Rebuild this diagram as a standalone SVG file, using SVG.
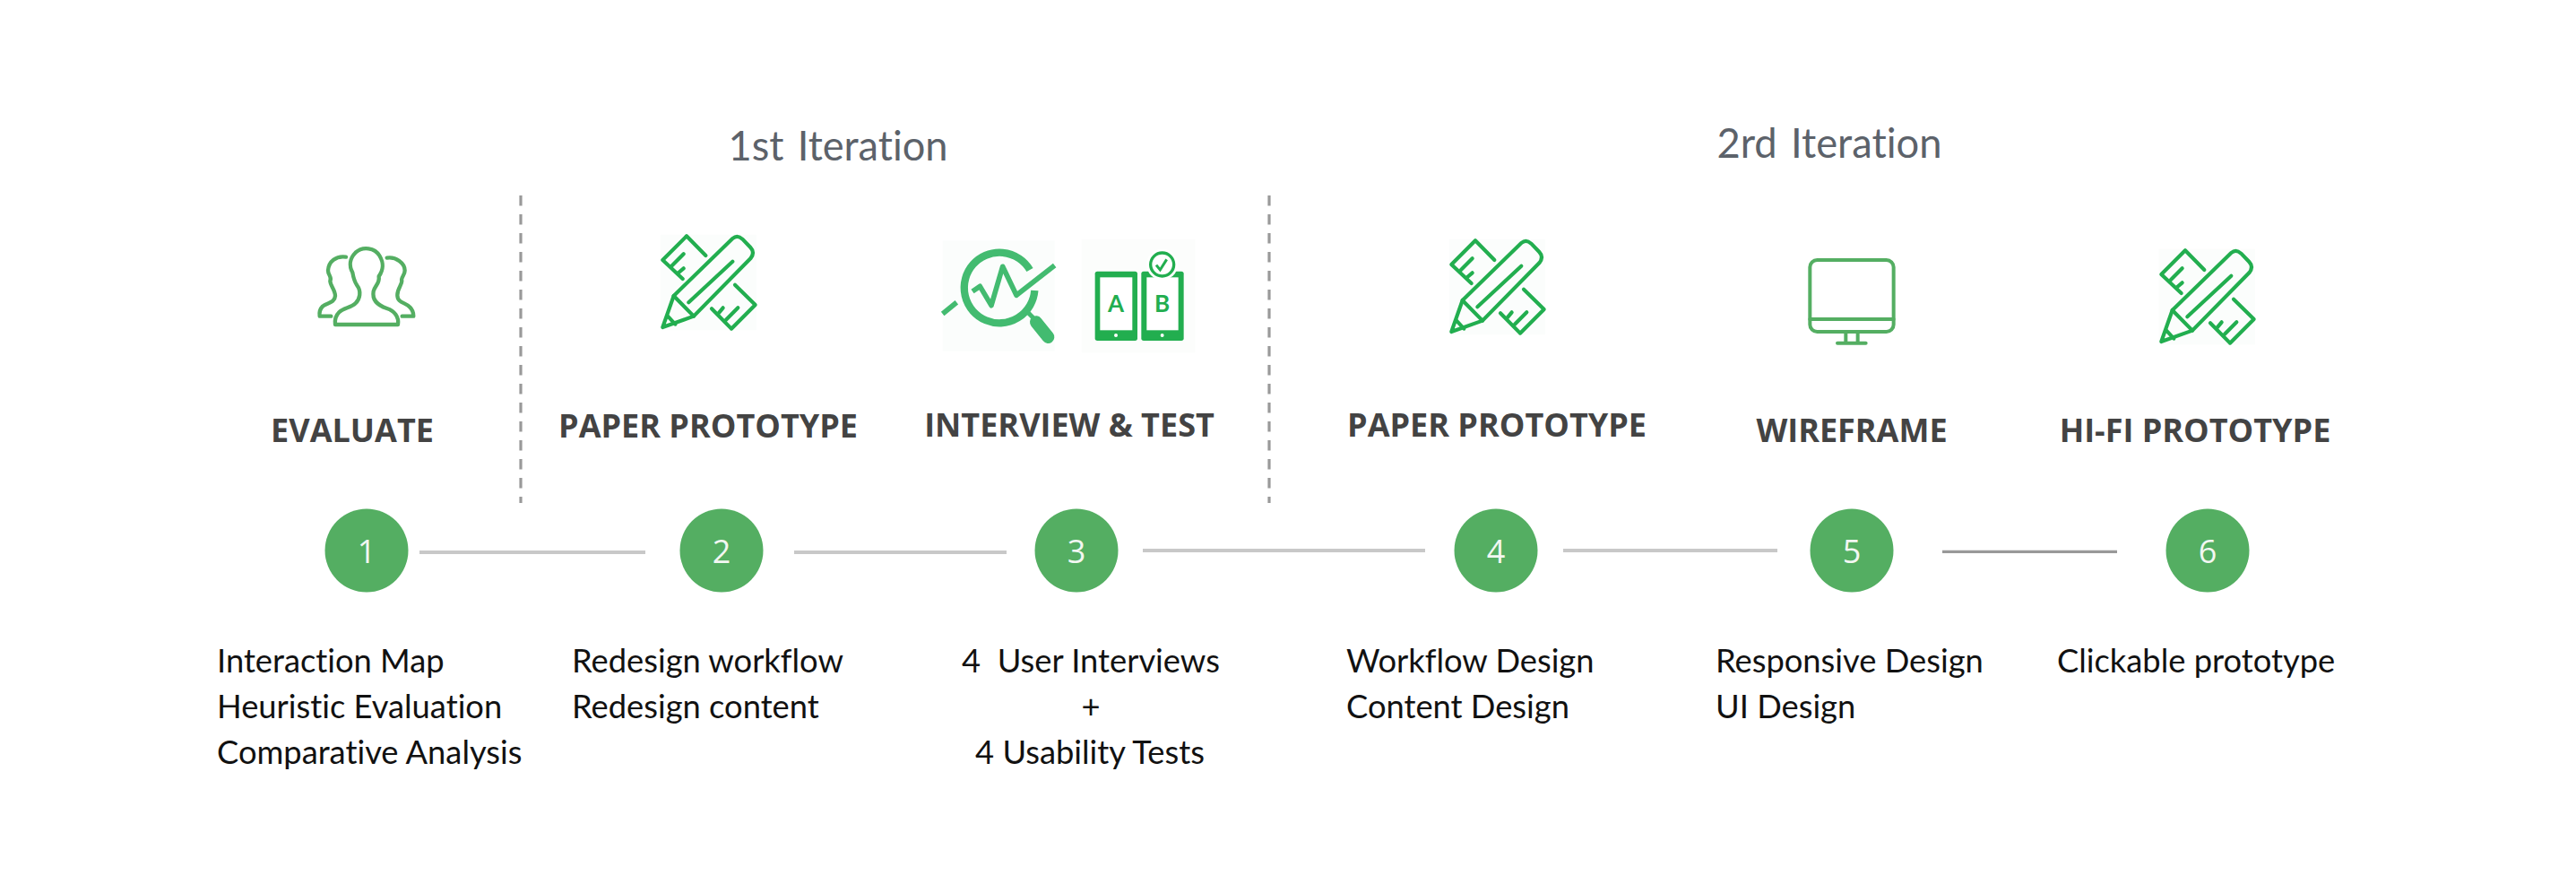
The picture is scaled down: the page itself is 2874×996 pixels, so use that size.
<svg xmlns="http://www.w3.org/2000/svg" width="2874" height="996" viewBox="0 0 2874 996">
<style>
text{white-space:pre;font-variant-ligatures:none!important}
.it{font:400 46px Lato,sans-serif;fill:#5c626a;text-anchor:middle;word-spacing:-4px}
.ti{font:700 36px "Open Sans",sans-serif;fill:#434343;text-anchor:middle}
.bd{font:400 36.3px Lato,sans-serif;fill:#111}
.mid{text-anchor:middle}
.num{font:400 36px "Open Sans",sans-serif;fill:#f2f7f2;text-anchor:middle}
.dot{fill:#54ae62}
.dash{stroke:#999;stroke-width:3.2;stroke-dasharray:11.5 9.5;fill:none}
.con{stroke:#c8c8c8;stroke-width:4;fill:none}
.dark{stroke:#999;stroke-width:3.3}
.ico{fill:none;stroke-linecap:round;stroke-linejoin:round}
.pen{stroke:#22ae4f;stroke-width:12.5}
.ppl{stroke:#54ae62;stroke-width:13}
</style>
<defs>
<g id="pencil" transform="scale(.3333)">
<rect x="110" y="95" width="322" height="320" fill="#fbfdfc"/>
<g class="ico pen">
<path d="M118 405L155 300L352 108Q368 94 385 110L412 138Q428 155 412 175L222 368Z"/>
<path d="M155 300L222 368M135 368L160 395M205 322L352 185"/>
<path d="M262 165L198 100L118 180L185 243M150 198L188 160M168 225L188 208"/>
<path d="M360 263L428 330L348 410L282 343M302 362L320 340M330 380L370 340"/>
</g>
</g>
</defs>
<text class="it" x="935" y="179" textLength="245" lengthAdjust="spacingAndGlyphs">1st  Iteration</text>
<text class="it" x="2041" y="176" textLength="251" lengthAdjust="spacingAndGlyphs">2rd  Iteration</text>
<g id="connectors">
<path class="dash" d="M581 218V561"/>
<path class="dash" d="M1416 218V561"/>
<path class="con" d="M468 616H720"/>
<path class="con" d="M886 616H1123"/>
<path class="con" d="M1275 614H1590"/>
<path class="con" d="M1744 614H1983"/>
<path class="con dark" d="M2167 615.3H2362"/>
</g>
<g id="n1">
<g class="ico ppl" transform="translate(300 230) scale(.3333)">
<path d="M222 396L432 396C436 370 420 350 395 342C365 332 345 315 350 285C355 265 372 258 368 235C385 210 385 190 370 165C355 140 315 132 290 155C270 175 268 200 280 222C283 240 285 250 295 265C310 285 305 310 290 325C275 340 250 340 235 355C222 368 220 380 222 396Z"/>
<path d="M258 170C225 165 200 185 198 215C198 230 212 238 205 250C205 265 222 280 222 300C220 325 195 322 180 335C170 345 168 355 170 368L208 368"/>
<path d="M395 173C425 168 455 190 455 215C455 232 440 240 445 250C445 265 430 275 430 298C430 325 460 322 472 338C482 348 484 358 484 368L446 368"/>
</g>
<text class="ti" x="393" y="493">EVALUATE</text>
<circle class="dot" cx="409" cy="614" r="46.5"/><text class="num" x="409" y="628">1</text>
<text class="bd" x="242" y="750">Interaction Map</text>
<text class="bd" x="242" y="801">Heuristic Evaluation</text>
<text class="bd" x="242" y="852">Comparative Analysis</text>
</g>
<g id="n2">
<use href="#pencil" x="700" y="230"/>
<text class="ti" x="790" y="488">PAPER PROTOTYPE</text>
<circle class="dot" cx="805" cy="614" r="46.5"/><text class="num" x="805" y="628">2</text>
<text class="bd" x="638" y="750">Redesign workflow</text>
<text class="bd" x="638" y="801">Redesign content</text>
</g>
<g id="n3">
<g transform="translate(1030 250) scale(.3333)">
<rect x="65" y="55" width="375" height="370" fill="#fbfdfc"/>
<g fill="none" stroke="#43bb70" stroke-linejoin="round">
<path d="M357 153A118 118 0 1 0 373 222" stroke-width="25"/>
<path d="M165 225L190 208L228 272L266 142L312 238L440 138M65 300L112 262" stroke-width="17"/>
<path d="M350 295L372 317" stroke-width="15"/>
<path d="M378 328L418 378" stroke-width="42" stroke-linecap="round"/>
</g>
</g>
<g transform="translate(1190 250) scale(.3333)">
<rect x="50" y="50" width="380" height="380" fill="#fcfdfc"/>
<rect x="95" y="158" width="142" height="232" rx="8" fill="#22ae4f"/>
<rect x="112" y="178" width="108" height="177" fill="#fff"/>
<circle cx="165" cy="372" r="6" fill="#fff"/>
<rect x="250" y="158" width="142" height="232" rx="8" fill="#22ae4f"/>
<rect x="268" y="178" width="106" height="177" fill="#fff"/>
<circle cx="320" cy="372" r="6" fill="#fff"/>
<circle cx="320" cy="135" r="52" fill="#fff"/>
<circle cx="320" cy="135" r="39" fill="#fff" stroke="#22ae4f" stroke-width="10"/>
<path d="M300 137L313 153L335 118" fill="none" stroke="#22ae4f" stroke-width="9"/>
<text x="165" y="295" font-family="Lato,sans-serif" font-weight="700" font-size="78" fill="#22ae4f" text-anchor="middle">A</text>
<text x="320" y="293" font-family="Lato,sans-serif" font-weight="700" font-size="78" fill="#22ae4f" text-anchor="middle">B</text>
</g>
<text class="ti" x="1193" y="487">INTERVIEW &amp; TEST</text>
<circle class="dot" cx="1201" cy="614" r="46.5"/><text class="num" x="1201" y="628">3</text>
<text class="bd mid" x="1217" y="750">4  User Interviews</text>
<text class="bd mid" x="1217" y="801">+</text>
<text class="bd mid" x="1216" y="852">4 Usability Tests</text>
</g>
<g id="n4">
<use href="#pencil" x="1580" y="235"/>
<text class="ti" x="1670" y="487">PAPER PROTOTYPE</text>
<circle class="dot" cx="1669" cy="614" r="46.5"/><text class="num" x="1669" y="628">4</text>
<text class="bd" x="1502" y="750">Workflow Design</text>
<text class="bd" x="1502" y="801">Content Design</text>
</g>
<g id="n5">
<g class="ico" stroke="#54ae62" stroke-width="12" transform="translate(1980 260) scale(.3333)">
<rect x="118" y="90" width="280" height="240" rx="24"/>
<path d="M118 288H398M238 330V366M278 330V366M210 368H305"/>
</g>
<text class="ti" x="2066" y="492.5">WIREFRAME</text>
<circle class="dot" cx="2066" cy="614" r="46.5"/><text class="num" x="2066" y="628">5</text>
<text class="bd" x="1914" y="750">Responsive Design</text>
<text class="bd" x="1914" y="801">UI Design</text>
</g>
<g id="n6">
<use href="#pencil" x="2372" y="246"/>
<text class="ti" x="2449" y="492.5">HI-FI PROTOTYPE</text>
<circle class="dot" cx="2463" cy="614" r="46.5"/><text class="num" x="2463" y="628">6</text>
<text class="bd" x="2295" y="750">Clickable prototype</text>
</g>
</svg>
